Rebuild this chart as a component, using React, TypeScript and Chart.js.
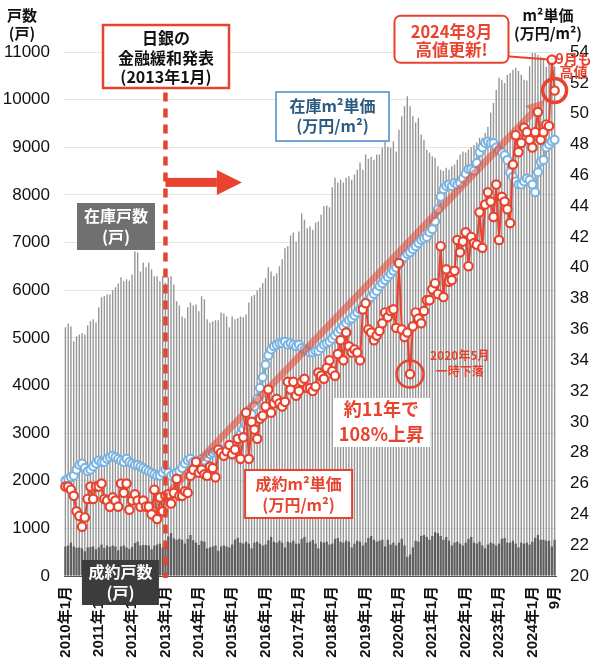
import React, { useEffect, useRef } from 'react';
import { Chart, registerables } from 'chart.js';

Chart.register(...registerables);

// ---------------- DATA ----------------
const startYear = 2010;
const monthCount = 177; // 2010/01 .. 2024/09
const categories: string[] = [];
for (let i = 0; i < monthCount; i++) {
  categories.push(`${startYear + Math.floor(i / 12)}年${(i % 12) + 1}月`);
}
const xTickLabels: string[] = categories.map((c, i) =>
  i % 12 === 0 ? c : i === monthCount - 1 ? '9月' : ''
);

// 在庫戸数 (戸)
const stockUnits: number[] = [
  5220, 5300, 5240, 4930, 5030, 5070, 5100, 5070, 5260, 5350, 5390, 5320,
  5640, 5850, 5870, 5910, 5910, 6000, 6060, 6140, 6270, 6190, 6230, 6200,
  6330, 6810, 6790, 6390, 6580, 6480, 6580, 6440, 6290, 6290, 6190, 6290,
  6160, 6270, 6290, 6120, 5770, 5680, 5450, 5410, 5640, 5740, 5680, 5700,
  5560, 5870, 5810, 5390, 5320, 5350, 5370, 5370, 5530, 5510, 5450, 5220,
  5450, 5390, 5410, 5450, 5430, 5490, 5740, 5870, 5900, 6000, 6050, 6150,
  6250, 6480, 6390, 6300, 6350, 6500, 6650, 6880, 6920, 7150, 7210, 7020,
  7230, 7610, 7480, 7300, 7340, 7270, 7420, 7440, 7590, 7760, 7780, 7740,
  8160, 8360, 8260, 8320, 8260, 8360, 8390, 8320, 8430, 8530, 8680, 8530,
  8850, 8760, 8800, 8740, 8850, 8850, 8990, 9120, 9010, 8990, 9120, 8910,
  9370, 9650, 9860, 10070, 9860, 9650, 9520, 9620, 9270, 9160, 8950, 8890,
  8810, 8780, 8600, 8530, 8500, 8570, 8530, 8600, 8640, 8740, 8850, 8910,
  8890, 8950, 9000, 9050, 9100, 9200, 9200, 9300, 9430, 9730, 9930, 10200,
  10460, 10420, 10350, 10520, 10560, 10630, 10670, 10600, 10520, 10420, 10400, 10700,
  10980, 10980, 10940, 10900, 10880, 10690, 10800, 10750, 10700,
];

// 成約戸数 (戸)
const contractUnits: number[] = [
  620, 640, 700, 620, 590, 600, 580, 520, 600, 610, 620, 560,
  600, 660, 590, 640, 610, 640, 620, 540, 620, 640, 600, 570,
  610, 690, 720, 640, 650, 650, 640, 560, 640, 660, 680, 600,
  720, 830, 900, 790, 760, 780, 760, 680, 780, 860, 750, 700,
  650, 740, 720, 580, 600, 620, 640, 530, 620, 640, 620, 600,
  660, 760, 800, 700, 680, 720, 680, 580, 700, 720, 680, 640,
  660, 750, 820, 720, 700, 740, 700, 600, 720, 700, 740, 680,
  680, 780, 820, 700, 720, 760, 680, 580, 720, 700, 720, 660,
  680, 780, 800, 720, 700, 740, 720, 600, 680, 740, 720, 640,
  700, 800, 840, 760, 720, 740, 760, 620, 760, 660, 700, 640,
  700, 780, 640, 400, 450, 600, 740, 720, 840, 860, 820, 760,
  840, 920, 900, 840, 760, 820, 740, 640, 700, 720, 680, 640,
  700, 780, 820, 700, 680, 720, 640, 580, 660, 700, 680, 640,
  680, 780, 800, 700, 700, 740, 680, 600, 700, 680, 700, 660,
  720, 800, 860, 760, 760, 740, 740, 620, 760,
];

// 在庫m²単価 (万円/m²)
const stockPrice: number[] = [
  26.2, 26.3, 26.4, 26.5, 26.9, 27.2, 27.3, 27.0, 26.8, 26.9, 27.1, 27.3,
  27.5, 27.4, 27.4, 27.6, 27.7, 27.8, 27.7, 27.6, 27.5, 27.4, 27.6, 27.4,
  27.3, 27.2, 27.2, 27.1, 27.0, 26.9, 26.8, 26.7, 26.6, 26.5, 26.5, 26.7,
  26.9, 26.7, 26.5, 26.6, 26.7, 26.8, 27.0, 27.3, 27.5, 27.6, 27.4, 27.5,
  27.4, 27.6, 27.5, 27.7, 27.9, 28.0, 28.1, 28.0, 28.2, 27.9, 28.1, 28.3,
  28.5, 28.6, 28.9, 29.2, 29.5, 29.8, 30.0, 30.5, 31.0, 31.5, 32.2, 32.9,
  33.7, 34.3, 34.7, 34.9, 35.0, 35.1, 35.1, 35.2, 35.0, 35.1, 35.0, 34.9,
  35.0, 34.8, 34.7, 34.6, 34.5, 34.5, 34.6, 34.6, 34.8, 35.0, 35.1, 35.2,
  35.4, 35.6, 35.8, 36.0, 36.2, 36.4, 36.6, 36.7, 36.9, 37.1, 37.3, 37.5,
  37.7, 37.9, 38.1, 38.3, 38.5, 38.8, 39.0, 39.2, 39.4, 39.6, 39.8, 40.0,
  40.3, 40.5, 40.7, 40.9, 41.0, 41.2, 41.4, 41.6, 41.8, 41.9, 42.0, 42.3,
  42.5, 43.0, 43.8, 44.6, 45.1, 45.3, 45.4, 45.3, 45.5, 45.4, 45.5, 45.8,
  46.1, 46.4, 46.4, 46.3, 46.8, 47.5, 47.8, 48.1, 48.2, 48.1, 48.1, 47.8,
  47.6, 47.5, 47.3, 47.0, 46.2, 45.9, 45.6, 45.4, 45.4, 45.6, 45.8, 45.7,
  45.4, 44.9, 46.2, 46.9, 47.0, 47.8, 48.0, 48.2, 48.3,
];

// 成約m²単価 (万円/m²)
const contractPrice: number[] = [
  25.8, 25.8, 25.6, 25.2, 24.2, 23.9, 23.2, 23.8, 25.0, 25.8, 25.0, 25.8,
  25.8, 26.0, 25.0, 24.9, 24.5, 25.1, 24.9, 24.5, 26.0, 25.4, 26.0, 24.3,
  24.9, 25.3, 24.9, 24.5, 24.9, 24.5, 24.5, 24.0, 25.6, 23.7, 25.1, 24.2,
  25.2, 25.3, 24.7, 25.4, 26.3, 25.2, 25.2, 25.5, 25.4, 26.5, 26.9, 27.4,
  26.7, 26.9, 26.6, 26.5, 27.1, 27.0, 26.4, 28.2, 28.0, 27.8, 28.1, 28.5,
  27.9, 28.2, 28.9, 27.6, 29.0, 30.6, 27.6, 30.0, 29.5, 28.9, 30.2, 30.4,
  31.0, 32.1, 30.6, 31.2, 31.5, 31.2, 31.0, 31.3, 32.6, 32.1, 32.6, 31.7,
  32.0, 32.6, 32.8, 32.2, 32.2, 32.0, 32.3, 33.2, 33.0, 32.8, 33.5, 34.0,
  33.3, 33.0, 34.4, 35.3, 34.0, 35.8, 34.9, 34.5, 34.7, 34.5, 34.0, 37.3,
  37.7, 36.0, 35.8, 35.3, 35.6, 35.9, 36.4, 37.1, 36.8, 37.2, 37.3, 36.1,
  40.3, 36.0, 35.5, 35.8, 33.1, 36.2, 37.1, 36.7, 36.4, 37.2, 37.9, 37.9,
  38.6, 39.0, 38.3, 41.4, 38.1, 39.9, 39.1, 39.2, 39.8, 41.8, 41.0, 41.7,
  42.3, 40.1, 42.0, 41.6, 41.5, 43.6, 41.3, 44.1, 44.9, 44.3, 43.3, 45.4,
  41.8, 44.6, 44.3, 43.8, 42.9, 46.7, 48.6, 47.5, 48.1, 49.1, 48.8, 48.3,
  47.8, 48.8, 50.1, 48.3, 48.8, 49.3, 49.2, 53.5, 51.5,
];

const leftAxis = { min: 0, max: 11000, step: 1000 };
const rightAxis = { min: 20, max: 54, step: 2 };

// ---------------- STYLE ----------------
const RED = '#e8432f';
const BLUE = '#7ab3e0';
const JP = '"Noto Sans CJK JP", sans-serif';
const NUM = '"Liberation Sans", "Noto Sans CJK JP", sans-serif';

function lines(ctx: any, ls: string[], cx: number, cy: number, lh: number, font: string, color: string) {
  ctx.font = font;
  ctx.fillStyle = color;
  ctx.textAlign = 'center';
  ctx.textBaseline = 'middle';
  const n = ls.length;
  ls.forEach((t, k) => ctx.fillText(t, cx, cy + (k - (n - 1) / 2) * lh));
}

function box(ctx: any, cx: number, cy: number, w: number, h: number, fill: string, stroke: string | null, lw: number, r = 0) {
  ctx.beginPath();
  if (r > 0 && (ctx as any).roundRect) (ctx as any).roundRect(cx - w / 2, cy - h / 2, w, h, r);
  else ctx.rect(cx - w / 2, cy - h / 2, w, h);
  ctx.fillStyle = fill;
  ctx.fill();
  if (stroke) {
    ctx.strokeStyle = stroke;
    ctx.lineWidth = lw;
    ctx.stroke();
  }
}

const annotationPlugin = {
  id: 'annotations',
  afterDatasetDraw(chart: any, args: any) {
    // trend arrow drawn between the blue and red series
    if (args.index !== 1) return;
    const { ctx } = chart;
    const X = (i: number) => chart.scales.x.getPixelForValue(i);
    const Y = (v: number) => chart.scales.y2.getPixelForValue(v);
    const x0 = X(36), y0 = Y(contractPrice[36]);
    const x1 = X(172.5), y1 = Y(50.9);
    const dx = x1 - x0, dy = y1 - y0;
    const len = Math.hypot(dx, dy);
    const ux = dx / len, uy = dy / len;
    const headL = 18, headW = 10;
    const bx = x1 - ux * headL, by = y1 - uy * headL;
    ctx.save();
    ctx.strokeStyle = 'rgba(232,67,47,0.55)';
    ctx.fillStyle = 'rgba(232,67,47,0.55)';
    ctx.lineWidth = 7;
    ctx.beginPath();
    ctx.moveTo(x0, y0);
    ctx.lineTo(bx, by);
    ctx.stroke();
    ctx.beginPath();
    ctx.moveTo(x1, y1);
    ctx.lineTo(bx - uy * headW, by + ux * headW);
    ctx.lineTo(bx + uy * headW, by - ux * headW);
    ctx.closePath();
    ctx.fill();
    ctx.restore();
  },
  afterDatasetsDraw(chart: any) {
    const { ctx, chartArea } = chart;
    const X = (i: number) => chart.scales.x.getPixelForValue(i);
    const Y = (v: number) => chart.scales.y2.getPixelForValue(v);
    ctx.save();

    // 日銀 box + dashed line + arrow
    const bojX = X(36.2), bojY = Y(53.7);
    ctx.strokeStyle = RED;
    ctx.lineWidth = 4.5;
    ctx.setLineDash([9, 7]);
    ctx.beginPath();
    ctx.moveTo(X(36), bojY + 36);
    ctx.lineTo(X(36), chartArea.bottom + 2);
    ctx.stroke();
    ctx.setLineDash([]);
    box(ctx, bojX, bojY, 126, 63, '#ffffff', RED, 2.5);
    lines(ctx, ['日銀の', '金融緩和発表', '(2013年1月)'], bojX, bojY + 1, 19.5, `bold 16px ${JP}`, '#111');

    // right arrow
    const ay = Y(45.54), ax0 = X(36), ax1 = X(63.5);
    ctx.fillStyle = RED;
    ctx.fillRect(ax0, ay - 4.5, ax1 - 25 - ax0, 9);
    ctx.beginPath();
    ctx.moveTo(ax1, ay);
    ctx.lineTo(ax1 - 25, ay - 12.5);
    ctx.lineTo(ax1 - 25, ay + 12.5);
    ctx.closePath();
    ctx.fill();

    // 在庫戸数 label
    box(ctx, X(18.2), Y(42.68), 78, 47, '#707070', null, 0);
    lines(ctx, ['在庫戸数', '(戸)'], X(18.2), Y(42.68), 21, `bold 16px ${JP}`, '#ffffff');

    // 成約戸数 label
    box(ctx, X(19.8), Y(19.58), 77, 45, '#3c3c3c', null, 0);
    lines(ctx, ['成約戸数', '(戸)'], X(19.8), Y(19.58), 21, `bold 16px ${JP}`, '#ffffff');

    // 在庫m2単価 label
    box(ctx, X(96.1), Y(49.82), 113, 49, '#ffffff', '#6fa8d8', 2);
    lines(ctx, ['在庫m²単価', '(万円/m²)'], X(96.1), Y(49.82), 20, `bold 16px ${JP}`, '#2b5a80');

    // 成約m2単価 label
    box(ctx, X(83.9), Y(25.32), 107, 48, '#ffffff', RED, 2);
    lines(ctx, ['成約m²単価', '(万円/m²)'], X(83.9), Y(25.32), 21, `bold 16px ${JP}`, RED);

    // 約11年で 108%上昇
    box(ctx, X(113.7), Y(29.96), 97, 49, '#ffffff', null, 0);
    lines(ctx, ['約11年で', '108%上昇'], X(113.7), Y(29.96) - 1, 25, `bold 18px ${JP}`, RED);

    // 2020年5月 一時下落
    ctx.strokeStyle = RED;
    ctx.lineWidth = 2.5;
    ctx.beginPath();
    ctx.arc(X(124), Y(contractPrice[124]), 13.5, 0, Math.PI * 2);
    ctx.stroke();
    lines(ctx, ['2020年5月', '一時下落'], X(141.9), Y(34.34) + 8, 16, `bold 12px ${JP}`, RED);

    // 2024年8月 callout
    const bX = X(138.9), bY = Y(54.82);
    const augX = X(175), augY = Y(contractPrice[175]);
    ctx.strokeStyle = RED;
    ctx.lineWidth = 2;
    ctx.beginPath();
    ctx.moveTo(bX + 55, bY + 17);
    ctx.lineTo(augX, augY);
    ctx.stroke();
    box(ctx, bX, bY, 114, 47, '#ffffff', RED, 2, 6);
    lines(ctx, ['2024年8月', '高値更新!'], bX, bY + 1.5, 18, `bold 16.5px ${JP}`, RED);
    // redraw Aug point on top of connector
    ctx.beginPath();
    ctx.arc(augX, augY, 4.2, 0, Math.PI * 2);
    ctx.fillStyle = '#fff';
    ctx.fill();
    ctx.strokeStyle = RED;
    ctx.lineWidth = 2.2;
    ctx.stroke();

    // 9月も 高値
    const sX = X(176), sY = Y(contractPrice[176]);
    ctx.lineWidth = 3.5;
    ctx.beginPath();
    ctx.arc(sX, sY, 12, 0, Math.PI * 2);
    ctx.stroke();
    lines(ctx, ['9月も', '高値'], sX + 19, sY - 25, 13, `bold 14px ${JP}`, RED);

    ctx.restore();
  },
  afterDraw(chart: any) {
    const { ctx, chartArea } = chart;
    ctx.save();
    lines(ctx, ['戸数', '(戸)'], chartArea.left - 42, 24, 18, `bold 15px ${JP}`, '#111');
    lines(ctx, ['m²単価', '(万円/m²)'], chartArea.right - 8, 24, 18, `bold 15px ${JP}`, '#111');
    ctx.restore();
  },
};

export default function App() {
  const ref = useRef<HTMLCanvasElement>(null);
  useEffect(() => {
    document.body.style.margin = '0';
    const canvas = ref.current!;
    const chart = new Chart(canvas, {
      type: 'bar',
      data: {
        labels: categories,
        datasets: [
          {
            type: 'line',
            label: '成約m²単価',
            data: contractPrice,
            yAxisID: 'y2',
            borderColor: RED,
            backgroundColor: '#ffffff',
            pointBackgroundColor: '#ffffff',
            pointBorderColor: RED,
            pointRadius: 4.2,
            pointBorderWidth: 2.2,
            borderWidth: 2,
            order: 0,
          } as any,
          {
            type: 'line',
            label: '在庫m²単価',
            data: stockPrice,
            yAxisID: 'y2',
            borderColor: BLUE,
            backgroundColor: '#ffffff',
            pointBackgroundColor: '#ffffff',
            pointBorderColor: BLUE,
            pointRadius: 4,
            pointBorderWidth: 2,
            borderWidth: 2,
            order: 1,
          } as any,
          {
            type: 'bar',
            label: '成約戸数',
            data: contractUnits,
            yAxisID: 'y',
            backgroundColor: '#5e5e5e',
            barPercentage: 0.8,
            categoryPercentage: 1,
            grouped: false,
            order: 2,
          } as any,
          {
            type: 'bar',
            label: '在庫戸数',
            data: stockUnits,
            yAxisID: 'y',
            backgroundColor: '#959595',
            barPercentage: 0.5,
            categoryPercentage: 1,
            grouped: false,
            order: 3,
          } as any,
        ],
      },
      options: {
        responsive: false,
        animation: false,
        devicePixelRatio: 1,
        layout: { padding: { top: 52, left: 0, right: 0, bottom: 0 } },
        plugins: { legend: { display: false }, tooltip: { enabled: false } },
        scales: {
          x: {
            offset: true,
            grid: { display: false, drawTicks: false },
            border: { display: true, color: '#555555' },
            ticks: {
              autoSkip: false,
              minRotation: 90,
              maxRotation: 90,
              padding: 10,
              color: '#111',
              font: { family: NUM, size: 15, weight: 'bold' },
              callback: (_v: any, i: number) => xTickLabels[i],
            },
            afterFit: (s: any) => {
              s.height = 94;
            },
          },
          y: {
            position: 'left',
            min: leftAxis.min,
            max: leftAxis.max,
            ticks: {
              stepSize: leftAxis.step,
              padding: 14,
              color: '#111',
              font: { family: NUM, size: 17 },
              callback: (v: any) => String(v),
            },
            grid: { color: '#e4e4e4', drawTicks: false },
            border: { display: false },
            afterFit: (s: any) => {
              s.width = 64;
            },
          },
          y2: {
            position: 'right',
            min: rightAxis.min,
            max: rightAxis.max,
            ticks: {
              stepSize: rightAxis.step,
              padding: 14,
              color: '#111',
              font: { family: NUM, size: 17 },
              callback: (v: any) => String(v),
            },
            grid: { display: false, drawTicks: false },
            border: { display: false },
            afterFit: (s: any) => {
              s.width = 44;
            },
          },
        },
      } as any,
      plugins: [annotationPlugin as any],
    });
    return () => chart.destroy();
  }, []);
  return (
    <div style={{ width: 600, height: 670 }}>
      <canvas ref={ref} width={600} height={670} />
    </div>
  );
}
